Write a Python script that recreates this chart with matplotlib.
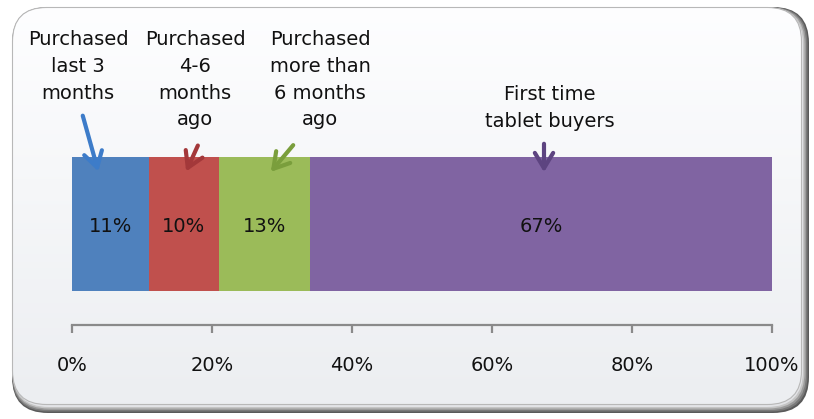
import matplotlib
matplotlib.use("Agg")
import matplotlib.pyplot as plt
from matplotlib.patches import FancyBboxPatch, FancyArrowPatch
import numpy as np

# share of buyers by last tablet purchase
segments = ["Purchased\nlast 3\nmonths", "Purchased\n4-6\nmonths\nago",
            "Purchased\nmore than\n6 months\nago", "First time\ntablet buyers"]
shares = [11, 10, 13, 67]
bar_colors = ["#4f81bd", "#c0504d", "#9bbb59", "#8064a2"]
arrow_colors = ["#3d7cc9", "#a3383a", "#7a9e3c", "#5d4480"]
x_ticks = [0, 20, 40, 60, 80, 100]
x_tick_labels = ["%d%%" % t for t in x_ticks]

W, H = 814, 419
dpi = 100
fig = plt.figure(figsize=(W / dpi, H / dpi), dpi=dpi)
fig.patch.set_facecolor("white")
FS = 14


def fx(px):
  return px / W


def fy(py):
  return 1 - py / H


# rounded frame with a soft shadow on the right and bottom
bg = fig.add_axes([0, 0, 1, 1], zorder=0)
bg.set_xlim(0, W)
bg.set_ylim(H, 0)
bg.axis("off")

shadow_layers = [("#5a5a5a", 0), ("#7a7a7a", 1.5), ("#9c9c9c", 3), ("#c4c4c4", 4.5), ("#e2e3e6", 6)]
for col, inset in shadow_layers:
  p = FancyBboxPatch((12 + inset * 0.15, 7 + inset * 0.15), 797 - inset * 1.15, 406 - inset * 1.15,
                     boxstyle="round,pad=0,rounding_size=36", facecolor=col, edgecolor="none")
  bg.add_patch(p)

frame = FancyBboxPatch((12.5, 7.5), 789, 397, boxstyle="round,pad=0,rounding_size=34",
                       facecolor="none", edgecolor="#b8b8b8", lw=0.8)
bg.add_patch(frame)
grad = np.linspace(0, 1, 256).reshape(-1, 1)
top = np.array([0.995, 0.996, 1.0])
bottom = np.array([0.925, 0.933, 0.945])
img = top + (bottom - top) * grad[..., None]
im = bg.imshow(img, extent=[12, 802, 405, 7], aspect="auto", zorder=2)
im.set_clip_path(frame)
frame.set_zorder(3)

# stacked horizontal bar
x0, x1 = 72, 772
bar_top, bar_bot, axis_y = 157, 291, 325
ax = fig.add_axes([fx(x0), fy(axis_y), fx(x1 - x0), (axis_y - bar_top) / H], zorder=2)
ax.patch.set_alpha(0)
bar_h = bar_bot - bar_top
ax.set_xlim(0, 100)
ax.set_ylim(-0.5 - (axis_y - bar_bot) / bar_h, 0.5)

lefts = np.concatenate([[0], np.cumsum(shares)[:-1]])
bars = ax.barh(0, shares, left=lefts, height=1, color=bar_colors, edgecolor="none")
for rect, v in zip(bars, shares):
  cx = min(rect.get_x() + rect.get_width() / 2, (rect.get_x() + 100) / 2)
  ax.text(cx, -0.02, "%d%%" % v, ha="center", va="center", fontsize=FS, color="#111111")

for s in ["top", "left", "right"]:
  ax.spines[s].set_visible(False)
ax.spines["bottom"].set_color("#8a8a8a")
ax.spines["bottom"].set_linewidth(1.6)
ax.set_yticks([])
ax.set_xticks(x_ticks)
ax.set_xticklabels(x_tick_labels, fontsize=FS, color="#111111")
ax.tick_params(axis="x", direction="out", length=6, width=1.6, color="#8a8a8a", pad=16)

# category callouts with arrows pointing into each segment
label_pos = [(78, 40), (195, 40), (320, 40), (550, 95)]
arrow_from = [(82, 113), (199, 143), (295, 143), (544, 141)]
arrow_to = [(99, 174), (185, 174), (269, 174), (544, 175)]
for name, (tx, ty), (ax0, ay0), (ax1, ay1), col in zip(segments, label_pos, arrow_from, arrow_to,
                                                      arrow_colors):
  fig.text(fx(tx), fy(ty - 10), name, ha="center", va="top", fontsize=FS,
           color="#111111", linespacing=1.52, zorder=5)
  fig.add_artist(FancyArrowPatch(
    (fx(ax0), fy(ay0)), (fx(ax1), fy(ay1)), transform=fig.transFigure,
    arrowstyle="->,head_length=0.55,head_width=0.33", color=col, lw=3,
    mutation_scale=20, zorder=5))

fig.savefig("out.png", dpi=dpi)
